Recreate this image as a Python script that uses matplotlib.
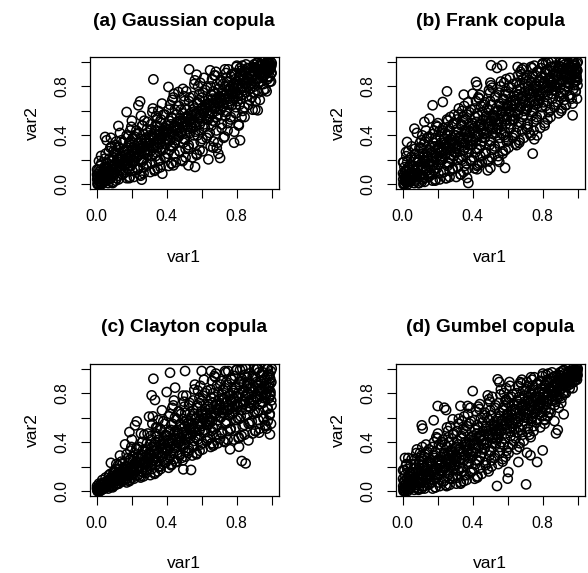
import matplotlib
matplotlib.use("Agg")
import matplotlib.pyplot as plt

plt.rcParams["font.family"] = ["Liberation Sans", "DejaVu Sans"]

titles = ["(a) Gaussian copula", "(b) Frank copula", "(c) Clayton copula", "(d) Gumbel copula"]
xlabel = "var1"
ylabel = "var2"
tick_values = [0.0, 0.2, 0.4, 0.6, 0.8, 1.0]
tick_labels = ["0.0", "", "0.4", "", "0.8", ""]

# var1 positions of the dense core, first layer (11 points per column)
core_x = [
    0.005, 0.028, 0.017, 0.037, 0.009, 0.024, 0.033, 0.002, 0.021, 0.013, 0.031,
    0.066, 0.046, 0.076, 0.058, 0.070, 0.043, 0.063, 0.072, 0.051, 0.078, 0.055,
    0.092, 0.114, 0.084, 0.109, 0.100, 0.088, 0.117, 0.096, 0.107, 0.081, 0.115,
    0.125, 0.148, 0.137, 0.157, 0.129, 0.144, 0.153, 0.122, 0.141, 0.133, 0.151,
    0.186, 0.166, 0.196, 0.178, 0.190, 0.163, 0.183, 0.192, 0.171, 0.198, 0.175,
    0.212, 0.234, 0.204, 0.229, 0.220, 0.208, 0.237, 0.216, 0.227, 0.201, 0.235,
    0.245, 0.268, 0.257, 0.277, 0.249, 0.264, 0.273, 0.242, 0.261, 0.253, 0.271,
    0.306, 0.286, 0.316, 0.298, 0.310, 0.283, 0.303, 0.312, 0.291, 0.318, 0.295,
    0.332, 0.354, 0.324, 0.349, 0.340, 0.328, 0.357, 0.336, 0.347, 0.321, 0.355,
    0.365, 0.388, 0.377, 0.397, 0.369, 0.384, 0.393, 0.362, 0.381, 0.373, 0.391,
    0.426, 0.406, 0.436, 0.418, 0.430, 0.403, 0.423, 0.432, 0.411, 0.438, 0.415,
    0.452, 0.474, 0.444, 0.469, 0.460, 0.448, 0.477, 0.456, 0.467, 0.441, 0.475,
    0.485, 0.508, 0.497, 0.517, 0.489, 0.504, 0.513, 0.482, 0.501, 0.493, 0.511,
    0.546, 0.526, 0.556, 0.538, 0.550, 0.523, 0.543, 0.552, 0.531, 0.558, 0.535,
    0.572, 0.594, 0.564, 0.589, 0.580, 0.568, 0.597, 0.576, 0.587, 0.561, 0.595,
    0.605, 0.628, 0.617, 0.637, 0.609, 0.624, 0.633, 0.602, 0.621, 0.613, 0.631,
    0.666, 0.646, 0.676, 0.658, 0.670, 0.643, 0.663, 0.672, 0.651, 0.678, 0.655,
    0.692, 0.714, 0.684, 0.709, 0.700, 0.688, 0.717, 0.696, 0.707, 0.681, 0.715,
    0.725, 0.748, 0.737, 0.757, 0.729, 0.744, 0.753, 0.722, 0.741, 0.733, 0.751,
    0.786, 0.766, 0.796, 0.778, 0.790, 0.763, 0.783, 0.792, 0.771, 0.798, 0.775,
    0.812, 0.834, 0.804, 0.829, 0.820, 0.808, 0.837, 0.816, 0.827, 0.801, 0.835,
    0.845, 0.868, 0.857, 0.877, 0.849, 0.864, 0.873, 0.842, 0.861, 0.853, 0.871,
    0.906, 0.886, 0.916, 0.898, 0.910, 0.883, 0.903, 0.912, 0.891, 0.918, 0.895,
    0.932, 0.954, 0.924, 0.949, 0.940, 0.928, 0.957, 0.936, 0.947, 0.921, 0.955,
    0.965, 0.988, 0.977, 0.997, 0.969, 0.984, 0.993, 0.962, 0.981, 0.973, 0.991,
]

# var1 positions of the dense core, second layer (13 points per column)
core2_x = [
    0.011, 0.006, 0.016, 0.013, 0.003, 0.018, 0.008, 0.002, 0.014, 0.010, 0.019, 0.015, 0.005,
    0.028, 0.044, 0.023, 0.053, 0.035, 0.049, 0.039, 0.058, 0.026, 0.047, 0.032, 0.055, 0.040,
    0.091, 0.074, 0.096, 0.067, 0.083, 0.062, 0.088, 0.078, 0.094, 0.070, 0.099, 0.065, 0.085,
    0.108, 0.124, 0.103, 0.133, 0.115, 0.129, 0.119, 0.138, 0.106, 0.127, 0.112, 0.135, 0.120,
    0.171, 0.154, 0.176, 0.147, 0.163, 0.142, 0.168, 0.158, 0.174, 0.150, 0.179, 0.145, 0.165,
    0.188, 0.204, 0.183, 0.213, 0.195, 0.209, 0.199, 0.218, 0.186, 0.207, 0.192, 0.215, 0.200,
    0.251, 0.234, 0.256, 0.227, 0.243, 0.222, 0.248, 0.238, 0.254, 0.230, 0.259, 0.225, 0.245,
    0.268, 0.284, 0.263, 0.293, 0.275, 0.289, 0.279, 0.298, 0.266, 0.287, 0.272, 0.295, 0.280,
    0.331, 0.314, 0.336, 0.307, 0.323, 0.302, 0.328, 0.318, 0.334, 0.310, 0.339, 0.305, 0.325,
    0.348, 0.364, 0.343, 0.373, 0.355, 0.369, 0.359, 0.378, 0.346, 0.367, 0.352, 0.375, 0.360,
    0.411, 0.394, 0.416, 0.387, 0.403, 0.382, 0.408, 0.398, 0.414, 0.390, 0.419, 0.385, 0.405,
    0.428, 0.444, 0.423, 0.453, 0.435, 0.449, 0.439, 0.458, 0.426, 0.447, 0.432, 0.455, 0.440,
    0.491, 0.474, 0.496, 0.467, 0.483, 0.462, 0.488, 0.478, 0.494, 0.470, 0.499, 0.465, 0.485,
    0.508, 0.524, 0.503, 0.533, 0.515, 0.529, 0.519, 0.538, 0.506, 0.527, 0.512, 0.535, 0.520,
    0.571, 0.554, 0.576, 0.547, 0.563, 0.542, 0.568, 0.558, 0.574, 0.550, 0.579, 0.545, 0.565,
    0.588, 0.604, 0.583, 0.613, 0.595, 0.609, 0.599, 0.618, 0.586, 0.607, 0.592, 0.615, 0.600,
    0.651, 0.634, 0.656, 0.627, 0.643, 0.622, 0.648, 0.638, 0.654, 0.630, 0.659, 0.625, 0.645,
    0.668, 0.684, 0.663, 0.693, 0.675, 0.689, 0.679, 0.698, 0.666, 0.687, 0.672, 0.695, 0.680,
    0.731, 0.714, 0.736, 0.707, 0.723, 0.702, 0.728, 0.718, 0.734, 0.710, 0.739, 0.705, 0.725,
    0.748, 0.764, 0.743, 0.773, 0.755, 0.769, 0.759, 0.778, 0.746, 0.767, 0.752, 0.775, 0.760,
    0.811, 0.794, 0.816, 0.787, 0.803, 0.782, 0.808, 0.798, 0.814, 0.790, 0.819, 0.785, 0.805,
    0.828, 0.844, 0.823, 0.853, 0.835, 0.849, 0.839, 0.858, 0.826, 0.847, 0.832, 0.855, 0.840,
    0.891, 0.874, 0.896, 0.867, 0.883, 0.862, 0.888, 0.878, 0.894, 0.870, 0.899, 0.865, 0.885,
    0.908, 0.924, 0.903, 0.933, 0.915, 0.929, 0.919, 0.938, 0.906, 0.927, 0.912, 0.935, 0.920,
    0.971, 0.954, 0.976, 0.947, 0.963, 0.942, 0.968, 0.958, 0.974, 0.950, 0.979, 0.945, 0.965,
    0.996, 0.989, 0.999, 0.985, 0.993, 0.982, 0.998, 0.991, 0.987, 0.995, 1.000, 0.984, 0.992,
]

gauss_y = [
    0.00, 0.01, 0.02, 0.03, 0.05, 0.07, 0.09, 0.12, 0.15, 0.19, 0.04,
    0.01, 0.03, 0.05, 0.08, 0.11, 0.14, 0.17, 0.21, 0.25, 0.30, 0.06,
    0.02, 0.05, 0.09, 0.12, 0.16, 0.19, 0.23, 0.27, 0.32, 0.38, 0.14,
    0.04, 0.08, 0.12, 0.16, 0.20, 0.23, 0.27, 0.31, 0.36, 0.42, 0.18,
    0.05, 0.10, 0.15, 0.19, 0.23, 0.27, 0.31, 0.35, 0.40, 0.47, 0.21,
    0.06, 0.12, 0.17, 0.22, 0.26, 0.30, 0.34, 0.39, 0.44, 0.52, 0.28,
    0.08, 0.14, 0.20, 0.25, 0.29, 0.33, 0.37, 0.42, 0.48, 0.56, 0.31,
    0.10, 0.17, 0.23, 0.28, 0.32, 0.36, 0.40, 0.45, 0.51, 0.59, 0.34,
    0.12, 0.19, 0.25, 0.30, 0.35, 0.39, 0.43, 0.48, 0.54, 0.62, 0.37,
    0.14, 0.22, 0.28, 0.33, 0.38, 0.42, 0.46, 0.51, 0.57, 0.66, 0.40,
    0.17, 0.25, 0.31, 0.36, 0.41, 0.45, 0.49, 0.54, 0.61, 0.71, 0.43,
    0.18, 0.27, 0.34, 0.39, 0.44, 0.48, 0.52, 0.57, 0.64, 0.74, 0.46,
    0.20, 0.29, 0.37, 0.42, 0.47, 0.51, 0.55, 0.61, 0.68, 0.78, 0.49,
    0.22, 0.32, 0.40, 0.46, 0.51, 0.55, 0.59, 0.64, 0.71, 0.82, 0.53,
    0.24, 0.35, 0.43, 0.49, 0.54, 0.58, 0.62, 0.67, 0.74, 0.85, 0.57,
    0.27, 0.38, 0.47, 0.53, 0.58, 0.62, 0.66, 0.71, 0.77, 0.87, 0.60,
    0.30, 0.42, 0.51, 0.57, 0.62, 0.66, 0.70, 0.74, 0.80, 0.89, 0.64,
    0.34, 0.46, 0.55, 0.61, 0.66, 0.70, 0.74, 0.78, 0.84, 0.92, 0.68,
    0.38, 0.50, 0.59, 0.65, 0.70, 0.74, 0.78, 0.82, 0.87, 0.94, 0.72,
    0.43, 0.55, 0.63, 0.69, 0.74, 0.78, 0.82, 0.86, 0.90, 0.96, 0.76,
    0.48, 0.60, 0.68, 0.73, 0.78, 0.82, 0.86, 0.89, 0.93, 0.97, 0.80,
    0.55, 0.65, 0.72, 0.78, 0.82, 0.86, 0.89, 0.92, 0.95, 0.98, 0.84,
    0.61, 0.71, 0.77, 0.82, 0.86, 0.89, 0.92, 0.94, 0.96, 0.99, 0.88,
    0.69, 0.77, 0.83, 0.87, 0.90, 0.93, 0.95, 0.97, 0.98, 1.00, 0.91,
    0.78, 0.84, 0.88, 0.91, 0.93, 0.95, 0.97, 0.98, 0.99, 1.00, 0.96,
]
gauss2_y = [
    0.00, 0.01, 0.02, 0.03, 0.04, 0.05, 0.06, 0.08, 0.10, 0.12, 0.01, 0.03, 0.07,
    0.00, 0.02, 0.04, 0.06, 0.08, 0.10, 0.12, 0.14, 0.17, 0.21, 0.05, 0.03, 0.09,
    0.01, 0.04, 0.07, 0.10, 0.12, 0.14, 0.16, 0.19, 0.22, 0.27, 0.09, 0.13, 0.31,
    0.03, 0.07, 0.10, 0.13, 0.16, 0.18, 0.20, 0.23, 0.26, 0.30, 0.35, 0.15, 0.21,
    0.05, 0.09, 0.13, 0.16, 0.19, 0.21, 0.24, 0.27, 0.30, 0.34, 0.39, 0.22, 0.17,
    0.06, 0.11, 0.15, 0.19, 0.22, 0.25, 0.28, 0.31, 0.34, 0.38, 0.44, 0.26, 0.20,
    0.07, 0.13, 0.18, 0.22, 0.25, 0.28, 0.31, 0.34, 0.37, 0.41, 0.48, 0.29, 0.24,
    0.09, 0.15, 0.20, 0.24, 0.28, 0.31, 0.34, 0.37, 0.41, 0.45, 0.52, 0.33, 0.27,
    0.11, 0.17, 0.23, 0.27, 0.31, 0.34, 0.37, 0.40, 0.44, 0.49, 0.56, 0.36, 0.30,
    0.13, 0.20, 0.26, 0.30, 0.34, 0.37, 0.40, 0.44, 0.48, 0.53, 0.60, 0.39, 0.33,
    0.15, 0.22, 0.28, 0.33, 0.37, 0.41, 0.44, 0.48, 0.52, 0.57, 0.65, 0.43, 0.36,
    0.17, 0.25, 0.31, 0.36, 0.40, 0.44, 0.47, 0.51, 0.55, 0.61, 0.69, 0.46, 0.39,
    0.19, 0.27, 0.34, 0.39, 0.43, 0.47, 0.50, 0.54, 0.58, 0.64, 0.72, 0.49, 0.42,
    0.22, 0.30, 0.37, 0.42, 0.47, 0.51, 0.54, 0.58, 0.62, 0.68, 0.76, 0.53, 0.45,
    0.25, 0.33, 0.40, 0.46, 0.50, 0.54, 0.58, 0.62, 0.66, 0.72, 0.80, 0.56, 0.48,
    0.28, 0.37, 0.44, 0.49, 0.54, 0.58, 0.62, 0.65, 0.69, 0.75, 0.83, 0.60, 0.52,
    0.31, 0.40, 0.48, 0.53, 0.58, 0.62, 0.65, 0.69, 0.73, 0.79, 0.86, 0.63, 0.56,
    0.35, 0.44, 0.52, 0.57, 0.62, 0.66, 0.69, 0.72, 0.76, 0.82, 0.89, 0.67, 0.60,
    0.39, 0.49, 0.56, 0.61, 0.66, 0.70, 0.73, 0.76, 0.80, 0.85, 0.91, 0.71, 0.64,
    0.44, 0.53, 0.60, 0.65, 0.70, 0.74, 0.77, 0.80, 0.84, 0.88, 0.94, 0.75, 0.68,
    0.49, 0.58, 0.65, 0.70, 0.74, 0.78, 0.81, 0.84, 0.87, 0.91, 0.95, 0.79, 0.72,
    0.55, 0.63, 0.70, 0.75, 0.79, 0.82, 0.85, 0.88, 0.90, 0.93, 0.97, 0.83, 0.77,
    0.61, 0.69, 0.75, 0.80, 0.83, 0.86, 0.89, 0.91, 0.93, 0.95, 0.98, 0.87, 0.82,
    0.68, 0.75, 0.80, 0.84, 0.87, 0.90, 0.92, 0.94, 0.95, 0.97, 0.99, 0.91, 0.86,
    0.76, 0.82, 0.86, 0.89, 0.91, 0.93, 0.95, 0.96, 0.97, 0.98, 0.99, 1.00, 0.94,
    0.84, 0.88, 0.91, 0.93, 0.95, 0.96, 0.97, 0.98, 0.99, 1.00, 0.99, 0.97, 0.94,
]
gauss_out_x = [0.324, 0.528, 0.648, 0.571, 0.920, 0.819, 0.785, 0.705, 0.695, 0.686, 0.638, 0.562, 0.524,
               0.438, 0.375, 0.257, 0.124, 0.171, 0.248, 0.238, 0.410, 0.467, 0.048, 0.057, 0.025]
gauss_out_y = [0.858, 0.940, 0.932, 0.896, 0.605, 0.360, 0.340, 0.215, 0.250, 0.297, 0.204, 0.142, 0.155,
               0.155, 0.087, 0.038, 0.477, 0.591, 0.678, 0.646, 0.796, 0.755, 0.387, 0.360, 0.232]

frank_y = [
    0.00, 0.02, 0.04, 0.06, 0.08, 0.11, 0.14, 0.18, 0.23, 0.05, 0.03,
    0.01, 0.03, 0.06, 0.09, 0.12, 0.16, 0.20, 0.25, 0.31, 0.04, 0.08,
    0.01, 0.04, 0.08, 0.12, 0.16, 0.20, 0.25, 0.30, 0.36, 0.42, 0.06,
    0.02, 0.06, 0.11, 0.15, 0.19, 0.23, 0.28, 0.33, 0.38, 0.44, 0.09,
    0.03, 0.08, 0.13, 0.18, 0.22, 0.26, 0.31, 0.36, 0.41, 0.47, 0.16,
    0.04, 0.10, 0.16, 0.21, 0.26, 0.30, 0.34, 0.39, 0.44, 0.50, 0.28,
    0.05, 0.11, 0.18, 0.24, 0.29, 0.33, 0.37, 0.42, 0.47, 0.53, 0.21,
    0.06, 0.13, 0.20, 0.26, 0.31, 0.36, 0.40, 0.45, 0.50, 0.57, 0.33,
    0.08, 0.15, 0.22, 0.28, 0.34, 0.39, 0.44, 0.49, 0.55, 0.62, 0.30,
    0.12, 0.19, 0.26, 0.32, 0.38, 0.43, 0.48, 0.53, 0.59, 0.67, 0.36,
    0.15, 0.22, 0.29, 0.35, 0.41, 0.46, 0.51, 0.56, 0.62, 0.70, 0.39,
    0.18, 0.25, 0.32, 0.38, 0.44, 0.49, 0.54, 0.59, 0.65, 0.73, 0.42,
    0.20, 0.28, 0.35, 0.41, 0.47, 0.52, 0.57, 0.62, 0.68, 0.77, 0.45,
    0.23, 0.31, 0.38, 0.45, 0.51, 0.56, 0.61, 0.66, 0.72, 0.80, 0.49,
    0.27, 0.35, 0.42, 0.49, 0.55, 0.60, 0.65, 0.70, 0.76, 0.84, 0.53,
    0.30, 0.38, 0.46, 0.53, 0.59, 0.64, 0.69, 0.74, 0.79, 0.87, 0.56,
    0.34, 0.42, 0.50, 0.57, 0.63, 0.68, 0.73, 0.78, 0.83, 0.90, 0.60,
    0.38, 0.47, 0.55, 0.61, 0.67, 0.72, 0.77, 0.82, 0.87, 0.94, 0.64,
    0.42, 0.51, 0.59, 0.65, 0.71, 0.76, 0.81, 0.85, 0.90, 0.96, 0.68,
    0.46, 0.55, 0.63, 0.69, 0.75, 0.80, 0.84, 0.88, 0.92, 0.98, 0.72,
    0.50, 0.59, 0.67, 0.73, 0.79, 0.83, 0.87, 0.91, 0.94, 0.99, 0.77,
    0.55, 0.63, 0.70, 0.76, 0.81, 0.85, 0.89, 0.93, 0.96, 1.00, 0.80,
    0.60, 0.67, 0.74, 0.79, 0.84, 0.88, 0.91, 0.94, 0.97, 1.00, 0.83,
    0.65, 0.71, 0.77, 0.82, 0.86, 0.90, 0.93, 0.95, 0.98, 1.00, 0.88,
    0.70, 0.76, 0.81, 0.85, 0.89, 0.92, 0.94, 0.96, 0.98, 1.00, 0.87,
]
frank2_y = [
    0.00, 0.01, 0.02, 0.03, 0.04, 0.05, 0.07, 0.09, 0.11, 0.14, 0.02, 0.06, 0.18,
    0.00, 0.02, 0.04, 0.06, 0.08, 0.10, 0.12, 0.15, 0.18, 0.22, 0.27, 0.05, 0.03,
    0.01, 0.03, 0.06, 0.09, 0.12, 0.15, 0.18, 0.21, 0.25, 0.29, 0.34, 0.07, 0.14,
    0.02, 0.05, 0.08, 0.11, 0.15, 0.18, 0.22, 0.26, 0.30, 0.35, 0.40, 0.13, 0.20,
    0.03, 0.07, 0.11, 0.15, 0.19, 0.22, 0.26, 0.30, 0.34, 0.39, 0.44, 0.17, 0.24,
    0.04, 0.09, 0.13, 0.18, 0.22, 0.26, 0.30, 0.34, 0.38, 0.43, 0.48, 0.20, 0.28,
    0.05, 0.10, 0.15, 0.20, 0.25, 0.29, 0.33, 0.37, 0.41, 0.46, 0.52, 0.23, 0.31,
    0.06, 0.12, 0.17, 0.23, 0.28, 0.32, 0.36, 0.40, 0.44, 0.49, 0.55, 0.26, 0.34,
    0.08, 0.14, 0.20, 0.26, 0.31, 0.35, 0.39, 0.43, 0.48, 0.53, 0.60, 0.29, 0.37,
    0.10, 0.17, 0.23, 0.29, 0.34, 0.39, 0.43, 0.47, 0.52, 0.57, 0.64, 0.32, 0.41,
    0.13, 0.20, 0.26, 0.32, 0.37, 0.42, 0.46, 0.50, 0.55, 0.61, 0.68, 0.35, 0.44,
    0.16, 0.23, 0.29, 0.35, 0.40, 0.45, 0.49, 0.53, 0.58, 0.64, 0.71, 0.38, 0.47,
    0.19, 0.26, 0.32, 0.38, 0.43, 0.48, 0.52, 0.56, 0.61, 0.67, 0.75, 0.41, 0.50,
    0.22, 0.29, 0.36, 0.42, 0.47, 0.52, 0.56, 0.60, 0.65, 0.71, 0.79, 0.45, 0.54,
    0.25, 0.33, 0.40, 0.46, 0.51, 0.56, 0.60, 0.64, 0.69, 0.75, 0.83, 0.49, 0.58,
    0.28, 0.36, 0.43, 0.49, 0.55, 0.60, 0.64, 0.68, 0.73, 0.79, 0.86, 0.52, 0.62,
    0.32, 0.40, 0.47, 0.53, 0.59, 0.64, 0.68, 0.72, 0.77, 0.82, 0.89, 0.56, 0.66,
    0.36, 0.44, 0.51, 0.57, 0.63, 0.68, 0.72, 0.76, 0.81, 0.86, 0.92, 0.60, 0.70,
    0.40, 0.49, 0.56, 0.62, 0.67, 0.72, 0.76, 0.80, 0.84, 0.89, 0.95, 0.64, 0.74,
    0.44, 0.53, 0.60, 0.66, 0.71, 0.76, 0.80, 0.84, 0.88, 0.92, 0.97, 0.68, 0.78,
    0.48, 0.57, 0.64, 0.70, 0.75, 0.80, 0.84, 0.87, 0.91, 0.95, 0.99, 0.72, 0.82,
    0.53, 0.61, 0.68, 0.74, 0.79, 0.83, 0.87, 0.90, 0.93, 0.96, 1.00, 0.77, 0.85,
    0.58, 0.65, 0.72, 0.77, 0.82, 0.86, 0.89, 0.92, 0.95, 0.97, 1.00, 0.80, 0.88,
    0.62, 0.69, 0.75, 0.80, 0.85, 0.88, 0.91, 0.94, 0.96, 0.98, 1.00, 0.83, 0.90,
    0.66, 0.73, 0.78, 0.83, 0.87, 0.90, 0.93, 0.95, 0.97, 0.99, 1.00, 0.86, 0.92,
    0.70, 0.76, 0.81, 0.85, 0.88, 0.91, 0.93, 0.95, 0.97, 0.99, 1.00, 0.84, 0.90,
]
frank_out_x = [0.505, 0.539, 0.568, 0.657, 0.691, 0.419, 0.425, 0.501, 0.505, 0.253, 0.349, 0.400, 0.229,
               0.171, 0.295, 0.067, 0.124, 0.152, 0.025, 0.019, 0.971, 0.933, 0.743, 0.768, 0.752, 0.642,
               0.590, 0.710, 0.585, 0.501, 0.486, 0.375, 0.368, 0.543, 0.552, 0.425, 0.438]
frank_out_y = [0.973, 0.951, 0.973, 0.959, 0.951, 0.837, 0.809, 0.831, 0.809, 0.760, 0.733, 0.741, 0.673,
               0.646, 0.569, 0.455, 0.510, 0.537, 0.346, 0.264, 0.564, 0.646, 0.251, 0.400, 0.368, 0.332,
               0.387, 0.450, 0.134, 0.134, 0.114, 0.011, 0.052, 0.196, 0.183, 0.123, 0.169]

clayton_y = [
    0.00, 0.01, 0.01, 0.02, 0.02, 0.03, 0.03, 0.04, 0.05, 0.06, 0.02,
    0.02, 0.03, 0.04, 0.05, 0.06, 0.07, 0.08, 0.09, 0.11, 0.14, 0.05,
    0.04, 0.06, 0.07, 0.09, 0.10, 0.12, 0.13, 0.15, 0.18, 0.23, 0.08,
    0.06, 0.08, 0.10, 0.12, 0.14, 0.16, 0.18, 0.21, 0.24, 0.29, 0.11,
    0.08, 0.10, 0.13, 0.15, 0.18, 0.20, 0.23, 0.26, 0.30, 0.36, 0.14,
    0.10, 0.13, 0.16, 0.19, 0.22, 0.25, 0.28, 0.31, 0.35, 0.42, 0.20,
    0.12, 0.15, 0.19, 0.22, 0.26, 0.29, 0.32, 0.36, 0.40, 0.47, 0.24,
    0.13, 0.17, 0.22, 0.26, 0.30, 0.34, 0.38, 0.42, 0.47, 0.55, 0.28,
    0.15, 0.20, 0.25, 0.30, 0.34, 0.38, 0.42, 0.47, 0.52, 0.61, 0.32,
    0.18, 0.23, 0.28, 0.33, 0.38, 0.42, 0.46, 0.51, 0.57, 0.66, 0.35,
    0.21, 0.26, 0.31, 0.36, 0.41, 0.45, 0.50, 0.55, 0.61, 0.70, 0.39,
    0.24, 0.29, 0.35, 0.40, 0.45, 0.49, 0.54, 0.59, 0.65, 0.74, 0.43,
    0.27, 0.32, 0.38, 0.43, 0.48, 0.53, 0.58, 0.63, 0.69, 0.78, 0.46,
    0.29, 0.35, 0.41, 0.46, 0.51, 0.56, 0.61, 0.66, 0.72, 0.83, 0.50,
    0.31, 0.38, 0.44, 0.50, 0.55, 0.60, 0.65, 0.70, 0.76, 0.87, 0.53,
    0.34, 0.41, 0.48, 0.54, 0.59, 0.64, 0.69, 0.74, 0.80, 0.91, 0.57,
    0.37, 0.44, 0.51, 0.57, 0.62, 0.67, 0.72, 0.77, 0.83, 0.93, 0.60,
    0.39, 0.47, 0.54, 0.60, 0.66, 0.71, 0.76, 0.81, 0.87, 0.96, 0.64,
    0.41, 0.49, 0.56, 0.62, 0.68, 0.73, 0.78, 0.83, 0.89, 0.98, 0.66,
    0.42, 0.51, 0.58, 0.64, 0.70, 0.75, 0.80, 0.85, 0.91, 0.99, 0.68,
    0.44, 0.53, 0.60, 0.66, 0.72, 0.77, 0.82, 0.87, 0.92, 0.99, 0.70,
    0.46, 0.55, 0.62, 0.68, 0.74, 0.79, 0.84, 0.88, 0.93, 1.00, 0.72,
    0.49, 0.57, 0.64, 0.70, 0.76, 0.81, 0.85, 0.89, 0.94, 1.00, 0.74,
    0.51, 0.59, 0.66, 0.72, 0.78, 0.82, 0.86, 0.90, 0.95, 1.00, 0.76,
    0.54, 0.62, 0.68, 0.74, 0.80, 0.84, 0.88, 0.92, 0.96, 1.00, 0.78,
]
clayton2_y = [
    0.00, 0.00, 0.01, 0.01, 0.02, 0.00, 0.01, 0.02, 0.03, 0.01, 0.00, 0.02, 0.01,
    0.01, 0.02, 0.02, 0.03, 0.03, 0.04, 0.04, 0.05, 0.06, 0.07, 0.09, 0.03, 0.05,
    0.03, 0.04, 0.05, 0.06, 0.07, 0.08, 0.09, 0.10, 0.11, 0.13, 0.16, 0.06, 0.08,
    0.05, 0.06, 0.08, 0.09, 0.10, 0.11, 0.13, 0.14, 0.16, 0.18, 0.22, 0.12, 0.09,
    0.07, 0.09, 0.10, 0.12, 0.13, 0.15, 0.16, 0.18, 0.20, 0.23, 0.27, 0.14, 0.17,
    0.09, 0.11, 0.13, 0.15, 0.17, 0.18, 0.20, 0.22, 0.25, 0.28, 0.33, 0.19, 0.16,
    0.11, 0.13, 0.16, 0.18, 0.20, 0.22, 0.24, 0.27, 0.30, 0.34, 0.40, 0.23, 0.19,
    0.12, 0.15, 0.18, 0.21, 0.23, 0.26, 0.28, 0.31, 0.34, 0.39, 0.46, 0.27, 0.22,
    0.14, 0.18, 0.21, 0.24, 0.27, 0.30, 0.33, 0.36, 0.40, 0.45, 0.52, 0.31, 0.25,
    0.16, 0.20, 0.24, 0.28, 0.31, 0.34, 0.37, 0.41, 0.45, 0.50, 0.58, 0.35, 0.29,
    0.19, 0.23, 0.27, 0.31, 0.35, 0.38, 0.41, 0.45, 0.49, 0.55, 0.63, 0.39, 0.33,
    0.22, 0.26, 0.31, 0.35, 0.39, 0.42, 0.46, 0.50, 0.54, 0.60, 0.68, 0.43, 0.37,
    0.25, 0.30, 0.35, 0.39, 0.43, 0.47, 0.51, 0.55, 0.59, 0.65, 0.73, 0.47, 0.41,
    0.28, 0.33, 0.38, 0.43, 0.47, 0.51, 0.55, 0.59, 0.64, 0.70, 0.78, 0.51, 0.45,
    0.30, 0.36, 0.42, 0.47, 0.51, 0.55, 0.59, 0.63, 0.68, 0.74, 0.82, 0.55, 0.49,
    0.33, 0.39, 0.45, 0.50, 0.55, 0.59, 0.63, 0.67, 0.72, 0.78, 0.86, 0.59, 0.53,
    0.36, 0.43, 0.49, 0.54, 0.59, 0.63, 0.67, 0.71, 0.76, 0.82, 0.90, 0.62, 0.57,
    0.38, 0.46, 0.52, 0.58, 0.63, 0.67, 0.71, 0.75, 0.80, 0.86, 0.94, 0.66, 0.61,
    0.40, 0.48, 0.55, 0.61, 0.66, 0.71, 0.75, 0.79, 0.84, 0.90, 0.97, 0.70, 0.64,
    0.42, 0.50, 0.57, 0.63, 0.69, 0.74, 0.78, 0.82, 0.87, 0.92, 0.98, 0.73, 0.67,
    0.43, 0.52, 0.59, 0.65, 0.71, 0.76, 0.80, 0.84, 0.89, 0.94, 0.99, 0.75, 0.69,
    0.45, 0.54, 0.61, 0.67, 0.73, 0.78, 0.82, 0.86, 0.90, 0.95, 1.00, 0.77, 0.71,
    0.47, 0.56, 0.63, 0.69, 0.75, 0.80, 0.84, 0.88, 0.92, 0.96, 1.00, 0.79, 0.73,
    0.49, 0.58, 0.65, 0.71, 0.77, 0.82, 0.86, 0.89, 0.93, 0.97, 1.00, 0.81, 0.75,
    0.51, 0.60, 0.67, 0.73, 0.79, 0.84, 0.88, 0.91, 0.94, 0.97, 1.00, 0.83, 0.77,
    0.55, 0.63, 0.70, 0.76, 0.81, 0.85, 0.89, 0.92, 0.95, 0.98, 1.00, 0.87, 0.79,
]
clayton_out_x = [0.324, 0.419, 0.505, 0.600, 0.653, 0.400, 0.448, 0.314, 0.333, 0.187, 0.219, 0.229, 0.162,
                 0.299, 0.495, 0.539, 0.829, 0.851, 0.762, 0.813, 0.867, 0.990, 0.928, 0.962, 0.977, 0.705,
                 0.657, 0.629, 0.524, 0.457, 0.390]
clayton_out_y = [0.918, 0.967, 0.981, 0.981, 0.981, 0.809, 0.845, 0.782, 0.744, 0.482, 0.537, 0.569, 0.381,
                 0.608, 0.177, 0.172, 0.245, 0.226, 0.341, 0.362, 0.414, 0.463, 0.477, 0.531, 0.572, 0.428,
                 0.390, 0.409, 0.313, 0.237, 0.232]

gumbel_y = [
    0.00, 0.01, 0.03, 0.05, 0.07, 0.10, 0.13, 0.17, 0.22, 0.27, 0.04,
    0.01, 0.03, 0.05, 0.08, 0.11, 0.14, 0.18, 0.22, 0.26, 0.31, 0.06,
    0.02, 0.04, 0.07, 0.10, 0.14, 0.17, 0.21, 0.25, 0.29, 0.34, 0.12,
    0.02, 0.05, 0.09, 0.12, 0.16, 0.20, 0.24, 0.28, 0.32, 0.38, 0.14,
    0.03, 0.07, 0.11, 0.15, 0.19, 0.23, 0.27, 0.31, 0.36, 0.43, 0.17,
    0.04, 0.08, 0.13, 0.17, 0.22, 0.26, 0.30, 0.35, 0.40, 0.47, 0.20,
    0.05, 0.10, 0.15, 0.20, 0.25, 0.29, 0.33, 0.38, 0.44, 0.52, 0.23,
    0.06, 0.12, 0.17, 0.22, 0.27, 0.32, 0.36, 0.41, 0.47, 0.55, 0.26,
    0.07, 0.13, 0.19, 0.25, 0.30, 0.35, 0.40, 0.45, 0.51, 0.59, 0.29,
    0.09, 0.15, 0.22, 0.28, 0.34, 0.39, 0.44, 0.49, 0.55, 0.63, 0.32,
    0.11, 0.18, 0.25, 0.31, 0.37, 0.42, 0.47, 0.52, 0.58, 0.67, 0.35,
    0.14, 0.21, 0.28, 0.35, 0.41, 0.46, 0.51, 0.56, 0.62, 0.71, 0.39,
    0.18, 0.25, 0.32, 0.39, 0.45, 0.50, 0.55, 0.60, 0.66, 0.75, 0.43,
    0.22, 0.29, 0.36, 0.43, 0.49, 0.54, 0.59, 0.64, 0.70, 0.79, 0.47,
    0.26, 0.33, 0.40, 0.47, 0.53, 0.58, 0.63, 0.68, 0.74, 0.83, 0.51,
    0.31, 0.38, 0.45, 0.51, 0.57, 0.62, 0.67, 0.72, 0.77, 0.86, 0.55,
    0.36, 0.43, 0.50, 0.56, 0.61, 0.66, 0.71, 0.75, 0.80, 0.88, 0.59,
    0.41, 0.48, 0.54, 0.60, 0.65, 0.70, 0.74, 0.78, 0.83, 0.91, 0.63,
    0.46, 0.53, 0.59, 0.64, 0.69, 0.73, 0.77, 0.81, 0.86, 0.93, 0.67,
    0.52, 0.58, 0.64, 0.69, 0.73, 0.77, 0.81, 0.84, 0.88, 0.94, 0.71,
    0.58, 0.64, 0.69, 0.73, 0.77, 0.81, 0.84, 0.87, 0.91, 0.96, 0.75,
    0.64, 0.70, 0.74, 0.78, 0.82, 0.85, 0.88, 0.90, 0.93, 0.97, 0.80,
    0.72, 0.77, 0.80, 0.83, 0.86, 0.88, 0.90, 0.92, 0.95, 0.98, 0.85,
    0.80, 0.84, 0.87, 0.89, 0.91, 0.92, 0.94, 0.95, 0.97, 0.99, 0.90,
    0.88, 0.91, 0.93, 0.94, 0.95, 0.96, 0.97, 0.98, 0.99, 1.00, 0.96,
]
gumbel2_y = [
    0.00, 0.01, 0.02, 0.03, 0.04, 0.06, 0.08, 0.10, 0.13, 0.17, 0.21, 0.05, 0.02,
    0.00, 0.02, 0.04, 0.06, 0.08, 0.10, 0.12, 0.15, 0.18, 0.22, 0.27, 0.05, 0.09,
    0.01, 0.03, 0.06, 0.08, 0.11, 0.13, 0.16, 0.19, 0.22, 0.26, 0.31, 0.10, 0.14,
    0.02, 0.04, 0.07, 0.10, 0.13, 0.16, 0.19, 0.22, 0.26, 0.30, 0.36, 0.12, 0.17,
    0.02, 0.06, 0.09, 0.12, 0.15, 0.18, 0.22, 0.25, 0.29, 0.34, 0.40, 0.14, 0.20,
    0.03, 0.07, 0.11, 0.14, 0.18, 0.21, 0.25, 0.28, 0.32, 0.38, 0.44, 0.16, 0.23,
    0.04, 0.08, 0.12, 0.16, 0.20, 0.24, 0.28, 0.31, 0.36, 0.42, 0.49, 0.19, 0.26,
    0.05, 0.10, 0.14, 0.18, 0.23, 0.27, 0.31, 0.35, 0.40, 0.46, 0.53, 0.21, 0.29,
    0.06, 0.11, 0.16, 0.21, 0.26, 0.30, 0.34, 0.38, 0.43, 0.49, 0.57, 0.24, 0.32,
    0.08, 0.13, 0.19, 0.24, 0.29, 0.33, 0.38, 0.42, 0.47, 0.53, 0.61, 0.27, 0.36,
    0.10, 0.16, 0.22, 0.27, 0.32, 0.37, 0.41, 0.45, 0.50, 0.57, 0.65, 0.30, 0.39,
    0.12, 0.19, 0.25, 0.31, 0.36, 0.41, 0.45, 0.49, 0.54, 0.60, 0.69, 0.34, 0.43,
    0.16, 0.23, 0.29, 0.35, 0.40, 0.45, 0.49, 0.53, 0.58, 0.64, 0.73, 0.38, 0.47,
    0.20, 0.27, 0.33, 0.39, 0.44, 0.49, 0.53, 0.57, 0.62, 0.68, 0.77, 0.42, 0.51,
    0.24, 0.31, 0.38, 0.44, 0.49, 0.53, 0.57, 0.61, 0.66, 0.72, 0.80, 0.46, 0.55,
    0.28, 0.36, 0.43, 0.49, 0.54, 0.58, 0.62, 0.66, 0.70, 0.76, 0.84, 0.51, 0.60,
    0.34, 0.41, 0.48, 0.53, 0.58, 0.62, 0.66, 0.70, 0.74, 0.79, 0.86, 0.56, 0.64,
    0.39, 0.46, 0.52, 0.57, 0.62, 0.66, 0.70, 0.73, 0.77, 0.82, 0.89, 0.60, 0.68,
    0.44, 0.51, 0.57, 0.62, 0.66, 0.70, 0.73, 0.77, 0.80, 0.85, 0.91, 0.64, 0.72,
    0.49, 0.56, 0.61, 0.66, 0.70, 0.74, 0.77, 0.80, 0.83, 0.87, 0.93, 0.68, 0.75,
    0.55, 0.61, 0.66, 0.70, 0.74, 0.77, 0.80, 0.83, 0.86, 0.90, 0.95, 0.72, 0.79,
    0.61, 0.67, 0.71, 0.75, 0.78, 0.81, 0.84, 0.86, 0.89, 0.92, 0.96, 0.77, 0.83,
    0.68, 0.73, 0.77, 0.80, 0.83, 0.85, 0.87, 0.89, 0.91, 0.94, 0.97, 0.82, 0.86,
    0.76, 0.80, 0.83, 0.85, 0.87, 0.89, 0.91, 0.92, 0.94, 0.96, 0.98, 0.86, 0.90,
    0.84, 0.87, 0.89, 0.91, 0.92, 0.93, 0.95, 0.96, 0.97, 0.98, 0.99, 0.90, 0.94,
    0.91, 0.93, 0.95, 0.96, 0.97, 0.98, 0.98, 0.99, 0.99, 1.00, 1.00, 0.97, 0.95,
]
gumbel_out_x = [0.543, 0.552, 0.610, 0.710, 0.400, 0.486, 0.590, 0.200, 0.238, 0.248, 0.109, 0.114, 0.177,
                0.330, 0.371, 0.387, 0.286, 0.705, 0.539, 0.768, 0.710, 0.730, 0.800, 0.661, 0.604, 0.600,
                0.876, 0.886, 0.920, 0.867, 0.810]
gumbel_out_y = [0.913, 0.891, 0.891, 0.891, 0.817, 0.782, 0.749, 0.695, 0.681, 0.662, 0.537, 0.510, 0.578,
                0.695, 0.695, 0.681, 0.586, 0.054, 0.041, 0.237, 0.313, 0.292, 0.332, 0.237, 0.155, 0.101,
                0.471, 0.499, 0.627, 0.572, 0.586]

panels = [
    (core_x + core2_x + gauss_out_x, gauss_y + gauss2_y + gauss_out_y),
    (core_x + core2_x + frank_out_x, frank_y + frank2_y + frank_out_y),
    (core_x + core2_x + clayton_out_x, clayton_y + clayton2_y + clayton_out_y),
    (core_x + core2_x + gumbel_out_x, gumbel_y + gumbel2_y + gumbel_out_y),
]

W, H = 588, 573
fig = plt.figure(figsize=(W / 100, H / 100), dpi=100)
box_w, box_h = 189 / W, 132.1 / H
rects = [
    (89.7 / W, (H - 189.2) / H),
    (395.7 / W, (H - 189.2) / H),
    (89.7 / W, (H - 495.9) / H),
    (395.7 / W, (H - 495.9) / H),
]

for (l, b), (xs, ys), title in zip(rects, panels, titles):
    ax = fig.add_axes([l, b, box_w, box_h])
    ax.scatter(xs, ys, s=44, facecolors="none", edgecolors="black", linewidths=1.1)
    ax.set_xlim(-0.04, 1.04)
    ax.set_ylim(-0.04, 1.04)
    ax.set_xticks(tick_values)
    ax.set_xticklabels(tick_labels)
    ax.set_yticks(tick_values)
    ax.set_yticklabels(tick_labels, rotation=90, va="center")
    ax.tick_params(direction="out", length=6.5, width=0.8, labelsize=11.3, pad=8, color="black")
    for sp in ax.spines.values():
        sp.set_linewidth(0.9)
    ax.text(0.5, 1.237, title, transform=ax.transAxes, ha="center", va="baseline",
            fontsize=13.8, fontweight="bold")
    ax.text(0.5, -0.549, xlabel, transform=ax.transAxes, ha="center", va="baseline", fontsize=12.5)
    ax.text(-0.277, 0.5, ylabel, transform=ax.transAxes, ha="center", va="baseline",
            rotation=90, rotation_mode="anchor", fontsize=12.5)

fig.savefig("out.png", dpi=100)
